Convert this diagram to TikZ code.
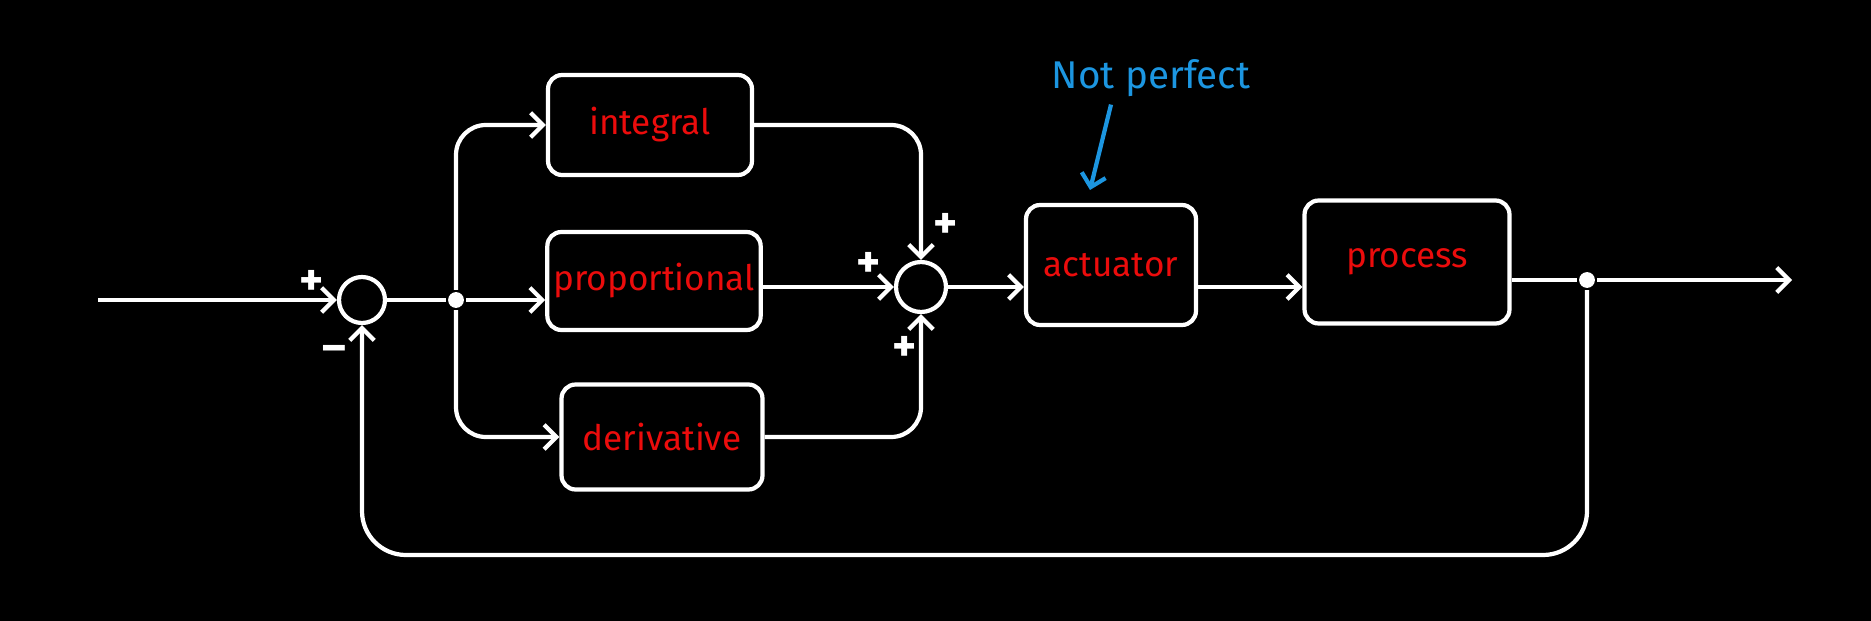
\documentclass[tikz,border=0pt]{standalone}
\usepackage{fontspec}
\setmainfont{Fira Sans}
\usetikzlibrary{arrows.meta}
\definecolor{boxred}{RGB}{235,12,12}
\definecolor{noteblue}{RGB}{28,150,225}
\begin{document}
\begin{tikzpicture}[x=0.02cm,y=-0.02cm,line width=2.4pt,white,
  box/.style={draw,rounded corners=8pt,text=boxred,font=\fontsize{20}{24}\selectfont},
  sumc/.style={draw,circle,minimum size=0.92cm,inner sep=0pt},
  dot/.style={circle,fill,inner sep=0pt,minimum size=9pt},
  sign/.style={font=\fontsize{26}{28}\selectfont\bfseries},
  >={Straight Barb[length=7pt,width=14pt]}]
\fill[black] (0,0) rectangle (1871,621);
\node[sumc] (S1) at (362,300) {};
\node[dot] (B) at (456,300) {};
\node[box,minimum width=4.08cm,minimum height=2cm] (I) at (650,125) {integral};
\node[box,minimum width=4cm,minimum height=1.96cm] (P) at (654,281) {proportional};
\node[box,minimum width=4.02cm,minimum height=2.1cm] (D) at (662,437) {derivative};
\node[sumc,minimum size=1cm] (S2) at (921,287) {};
\node[box,minimum width=3.4cm,minimum height=2.4cm] (Ac) at (1111,265) {actuator};
\node[box,minimum width=4.1cm,minimum height=2.46cm] (Pr) at (1407,262) {process};
\node[dot] (O) at (1587,280) {};
\coordinate (In) at (98,300);
\coordinate (Out) at (1792,280);
\node[sign] (s1) at (312,283) {+};
\node[sign] (s2) at (334,354) {–};
\node[sign] (s3) at (946,226) {+};
\node[sign] (s4) at (869,265) {+};
\node[sign] (s5) at (905,349) {+};
\node[text=noteblue,font=\fontsize{22}{26}\selectfont] (N) at (1151,78) {Not perfect};
\coordinate (Nt) at (1090,190);
\draw[->] (In) -- (S1);
\draw (S1) -- (B);
\draw[->] (B) -- (B -| P.west);
\draw[->,rounded corners=17pt] (B) |- (I);
\draw[->,rounded corners=17pt] (B) |- (D);
\draw[->,rounded corners=17pt] (I) -| (S2);
\draw[->] (P.east |- S2) -- (S2);
\draw[->,rounded corners=17pt] (D) -| (S2);
\draw[->] (S2) -- (S2 -| Ac.west);
\draw[->] (Ac.east |- S2) -- (S2 -| Pr.west);
\draw (Pr.east |- O) -- (O);
\draw[->] (O) -- (Out);
\draw[->,rounded corners=25pt] (O) -- ++(0,275) -| (S1);
\draw[noteblue,->] (N.south -| Ac.north) -- (Nt);
\end{tikzpicture}
\end{document}
